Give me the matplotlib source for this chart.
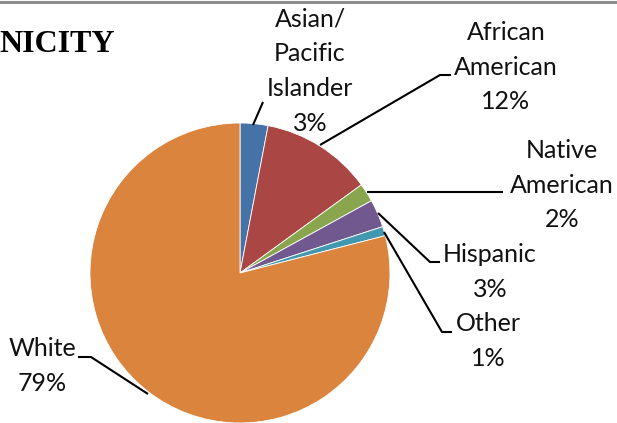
import matplotlib
matplotlib.use("Agg")
import matplotlib.pyplot as plt

categories = ["Asian/\nPacific\nIslander", "African\nAmerican", "Native\nAmerican", "Hispanic", "Other", "White"]
values = [3, 12, 2, 3, 1, 79]
colors = ["#4572A7", "#AA4643", "#89A54E", "#71588F", "#4198AF", "#DB843D"]

W, H = 617, 423
fig = plt.figure(figsize=(W / 100, H / 100), dpi=100)
ax = fig.add_axes([0, 0, 1, 1])

cx, cy, r = 240, H - 273, 150
ax.pie(values, colors=colors, startangle=90, counterclock=False,
       center=(cx, cy), radius=r, frame=True,
       wedgeprops=dict(linewidth=0.6, edgecolor="white"))
ax.set_xlim(0, W)
ax.set_ylim(0, H)
ax.set_aspect("equal")
ax.axis("off")

def py(y):
    return H - y

# label positions (pixel coords) and leader lines
label_pos = [(310, 71), (506, 67), (562, 185), (490, 272), (488, 341), (42, 366)]
leaders = [
    [(253, 125), (263, 102)],
    [(320, 145), (440, 75), (451, 75)],
    [(367, 192), (503, 192)],
    [(378, 213), (430, 262), (440, 262)],
    [(384, 232), (442, 332), (452, 332)],
    [(148, 394), (91, 357), (78, 357)],
]

font = ["Lato", "DejaVu Sans"]
for cat, v, (x, y), pts in zip(categories, values, label_pos, leaders):
    ax.text(x, py(y), f"{cat}\n{v}%", ha="center", va="center",
            fontsize=18, family=font, linespacing=1.63, color="#111111")
    xs = [p[0] for p in pts]
    ys = [py(p[1]) for p in pts]
    ax.plot(xs, ys, color="black", lw=1.5, solid_capstyle="butt")

ax.text(-1, py(44), "NICITY", ha="left", va="center", fontsize=23,
        family=["Liberation Serif", "DejaVu Serif"], fontweight="bold")

# top border line
ax.plot([0, W], [H - 1.5, H - 1.5], color="#8c8c8c", lw=2.2, clip_on=False)

fig.savefig("out.png", dpi=100)
